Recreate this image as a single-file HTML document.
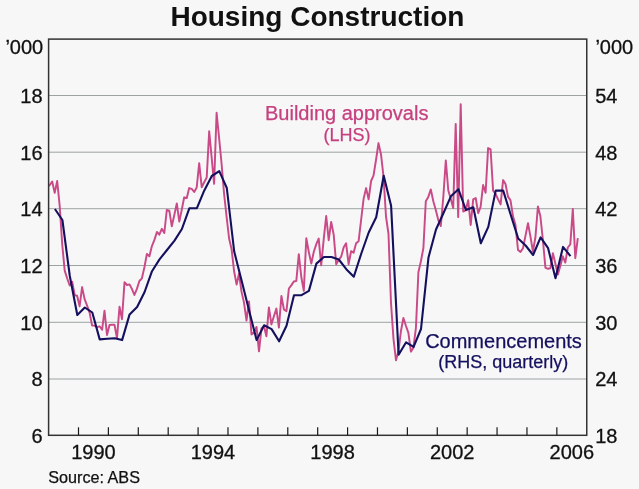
<!DOCTYPE html>
<html><head><meta charset="utf-8"><title>Housing Construction</title>
<style>
html,body{margin:0;padding:0;background:#f7f7f7;}
svg{display:block;font-family:"Liberation Sans",Arial,Helvetica,sans-serif;}
</style></head>
<body>
<svg width="639" height="489" viewBox="0 0 639 489">
<rect width="639" height="489" fill="#f7f7f7"/>
<g stroke="#9da3a3" stroke-width="1" fill="none"><line x1="48.6" x2="586.75" y1="379.0" y2="379.0"/><line x1="48.6" x2="586.75" y1="322.3" y2="322.3"/><line x1="48.6" x2="586.75" y1="265.5" y2="265.5"/><line x1="48.6" x2="586.75" y1="208.7" y2="208.7"/><line x1="48.6" x2="586.75" y1="152.2" y2="152.2"/><line x1="48.6" x2="586.75" y1="95.5" y2="95.5"/></g>
<polyline points="48.9,186.2 49.8,185.0 52.2,181.5 54.7,192.9 57.2,181.0 59.7,206.0 62.2,244.0 64.7,270.6 67.2,278.5 69.7,285.5 72.2,281.9 74.7,295.2 77.1,295.8 79.6,306.4 82.1,287.1 84.6,299.1 87.1,305.6 89.6,312.6 92.1,325.6 94.6,325.6 97.1,327.2 99.6,326.3 102.1,329.8 104.5,310.7 107.0,335.0 109.5,325.0 112.0,324.8 114.5,324.8 117.0,338.2 119.5,306.8 122.0,319.2 124.5,282.2 127.0,285.0 129.5,284.4 131.9,288.9 134.4,295.0 136.9,288.9 139.4,281.0 141.9,278.3 144.4,267.3 146.9,254.0 149.4,256.3 151.9,246.1 154.4,239.9 156.9,232.0 159.3,234.7 161.8,228.8 164.3,233.0 166.8,210.0 169.3,210.7 171.8,226.3 174.3,215.0 176.8,203.5 179.3,221.6 181.8,209.5 184.2,197.3 186.7,198.2 189.2,188.1 191.7,188.9 194.2,192.0 196.7,187.5 199.2,163.2 201.7,187.2 204.2,182.2 206.7,177.5 209.2,131.3 211.6,157.0 214.1,183.8 216.6,112.8 219.1,138.0 221.6,164.0 224.1,194.0 226.6,216.8 229.1,238.5 231.6,249.2 234.1,271.3 236.6,284.6 239.0,273.6 241.5,291.6 244.0,302.6 246.5,320.5 249.0,301.5 251.5,334.4 254.0,332.6 256.5,326.9 259.0,351.3 261.5,328.2 264.0,326.3 266.4,336.3 268.9,307.4 271.4,324.4 273.9,316.3 276.4,308.6 278.9,327.6 281.4,296.0 283.9,309.5 286.4,311.3 288.9,288.5 291.3,285.4 293.8,281.5 296.3,281.0 298.8,254.2 301.3,277.0 303.8,290.9 306.3,238.2 308.8,252.0 311.3,263.5 313.8,251.8 316.3,244.1 318.7,238.6 321.2,265.3 323.7,239.4 326.2,216.0 328.7,240.2 331.2,221.9 333.7,234.7 336.2,264.2 338.7,259.8 341.2,256.6 343.7,247.3 346.1,243.3 348.6,264.2 351.1,251.2 353.6,252.7 356.1,243.3 358.6,241.2 361.1,220.0 363.6,198.8 366.1,188.1 368.6,199.4 371.1,181.0 373.5,175.7 376.0,160.0 378.5,143.1 381.0,154.4 383.5,176.3 386.0,216.5 388.5,234.0 391.0,303.0 393.5,339.1 396.0,360.3 398.4,351.6 400.9,331.3 403.4,318.0 405.9,325.8 408.4,332.9 410.9,351.6 413.4,347.7 415.9,328.2 418.4,272.3 420.9,261.2 423.4,248.0 425.8,201.3 428.3,196.9 430.8,189.4 433.3,201.3 435.8,210.0 438.3,220.0 440.8,226.0 443.3,197.0 445.8,160.5 448.3,190.5 450.8,199.1 453.2,208.1 455.7,123.9 458.2,217.1 460.7,104.2 463.2,211.6 465.7,210.4 468.2,200.2 470.7,225.0 473.2,199.4 475.7,198.0 478.2,213.2 480.6,206.8 483.1,185.0 485.6,192.8 488.1,148.1 490.6,149.4 493.1,190.7 495.6,193.8 498.1,199.4 500.6,204.4 503.1,180.1 505.5,184.0 508.0,196.6 510.5,200.4 513.0,216.3 515.5,225.1 518.0,250.0 520.5,251.9 523.0,248.2 525.5,235.6 528.0,223.2 530.5,236.9 532.9,251.3 535.4,237.5 537.9,206.5 540.4,216.3 542.9,240.0 545.4,267.6 547.9,268.8 550.4,268.2 552.9,253.2 555.4,263.8 557.9,274.5 560.3,266.0 562.8,256.3 565.3,262.6 567.8,247.5 570.3,244.4 572.8,209.0 575.3,258.2 577.8,238.1" fill="none" stroke="#c94a87" stroke-width="1.95" stroke-linejoin="round"/>
<polyline points="54.9,209.0 62.4,220.0 69.8,276.0 77.3,315.0 84.8,307.5 92.3,312.5 99.7,339.4 107.2,338.8 114.7,338.2 122.1,340.1 129.6,314.4 137.1,307.0 144.6,292.0 152.0,271.2 159.5,259.4 167.0,250.0 174.5,240.6 181.9,229.0 189.4,208.2 196.9,208.2 204.3,190.4 211.8,176.0 219.3,171.1 226.8,188.0 234.2,251.5 241.7,281.0 249.2,311.0 256.6,340.1 264.1,325.3 271.6,329.1 279.1,341.3 286.5,325.7 294.0,295.3 301.5,295.1 308.9,290.9 316.4,263.6 323.9,257.0 331.4,257.0 338.8,259.5 346.3,269.2 353.8,276.7 361.3,253.5 368.7,232.5 376.2,217.2 383.7,175.7 391.1,205.7 398.6,354.8 406.1,342.3 413.6,346.9 421.0,329.0 428.5,257.4 436.0,229.5 443.4,213.3 450.9,196.3 458.4,189.2 465.9,210.0 473.3,207.3 480.8,243.2 488.3,226.9 495.7,190.6 503.2,190.6 510.7,214.7 518.2,238.5 525.6,245.5 533.1,255.0 540.6,237.4 548.1,248.2 555.5,278.2 563.0,246.9 570.5,256.1" fill="none" stroke="#14105e" stroke-width="2.1" stroke-linejoin="round"/>
<g stroke="#333" stroke-width="1.5" fill="none">
<rect x="48.6" y="39.1" width="538.15" height="396.2"/>
</g>
<g stroke="#1a1a1a" stroke-width="1.2" fill="none"><line x1="78.50" x2="78.50" y1="427.3" y2="435.3"/><line x1="108.39" x2="108.39" y1="427.3" y2="435.3"/><line x1="138.29" x2="138.29" y1="427.3" y2="435.3"/><line x1="168.19" x2="168.19" y1="427.3" y2="435.3"/><line x1="198.09" x2="198.09" y1="427.3" y2="435.3"/><line x1="227.98" x2="227.98" y1="427.3" y2="435.3"/><line x1="257.88" x2="257.88" y1="427.3" y2="435.3"/><line x1="287.78" x2="287.78" y1="427.3" y2="435.3"/><line x1="317.68" x2="317.68" y1="427.3" y2="435.3"/><line x1="347.57" x2="347.57" y1="427.3" y2="435.3"/><line x1="377.47" x2="377.47" y1="427.3" y2="435.3"/><line x1="407.37" x2="407.37" y1="427.3" y2="435.3"/><line x1="437.26" x2="437.26" y1="427.3" y2="435.3"/><line x1="467.16" x2="467.16" y1="427.3" y2="435.3"/><line x1="497.06" x2="497.06" y1="427.3" y2="435.3"/><line x1="526.96" x2="526.96" y1="427.3" y2="435.3"/><line x1="556.85" x2="556.85" y1="427.3" y2="435.3"/></g>
<text x="317.4" y="25.8" text-anchor="middle" font-size="28" font-weight="bold" fill="#111">Housing Construction</text>
<g font-size="20" fill="#111" stroke="#111" stroke-width="0.3">
<text x="43.2" y="53.7" text-anchor="end">’000</text>
<text x="595.4" y="53.7">’000</text>
<text x="42.6" y="442.7" text-anchor="end">6</text><text x="42.6" y="386.1" text-anchor="end">8</text><text x="42.6" y="329.5" text-anchor="end">10</text><text x="42.6" y="272.9" text-anchor="end">12</text><text x="42.6" y="216.3" text-anchor="end">14</text><text x="42.6" y="159.7" text-anchor="end">16</text><text x="42.6" y="103.1" text-anchor="end">18</text>
<text x="595.2" y="442.7">18</text><text x="595.2" y="386.1">24</text><text x="595.2" y="329.5">30</text><text x="595.2" y="272.9">36</text><text x="595.2" y="216.3">42</text><text x="595.2" y="159.7">48</text><text x="595.2" y="103.1">54</text>
<text x="93.4" y="459.3" text-anchor="middle">1990</text><text x="213.0" y="459.3" text-anchor="middle">1994</text><text x="332.6" y="459.3" text-anchor="middle">1998</text><text x="452.2" y="459.3" text-anchor="middle">2002</text><text x="571.8" y="459.3" text-anchor="middle">2006</text>
</g>
<text x="48.2" y="482.9" font-size="16.2" fill="#111" stroke="#111" stroke-width="0.25">Source: ABS</text>
<g fill="#c6407f" stroke="#c6407f" stroke-width="0.25" text-anchor="middle">
<text x="346.7" y="119.8" font-size="20">Building approvals</text>
<text x="346.9" y="141" font-size="18">(LHS)</text>
</g>
<g fill="#14105e" stroke="#14105e" stroke-width="0.25" text-anchor="middle">
<text x="503.5" y="348.2" font-size="20">Commencements</text>
<text x="503.2" y="367.6" font-size="18">(RHS, quarterly)</text>
</g>
</svg>
</body></html>
